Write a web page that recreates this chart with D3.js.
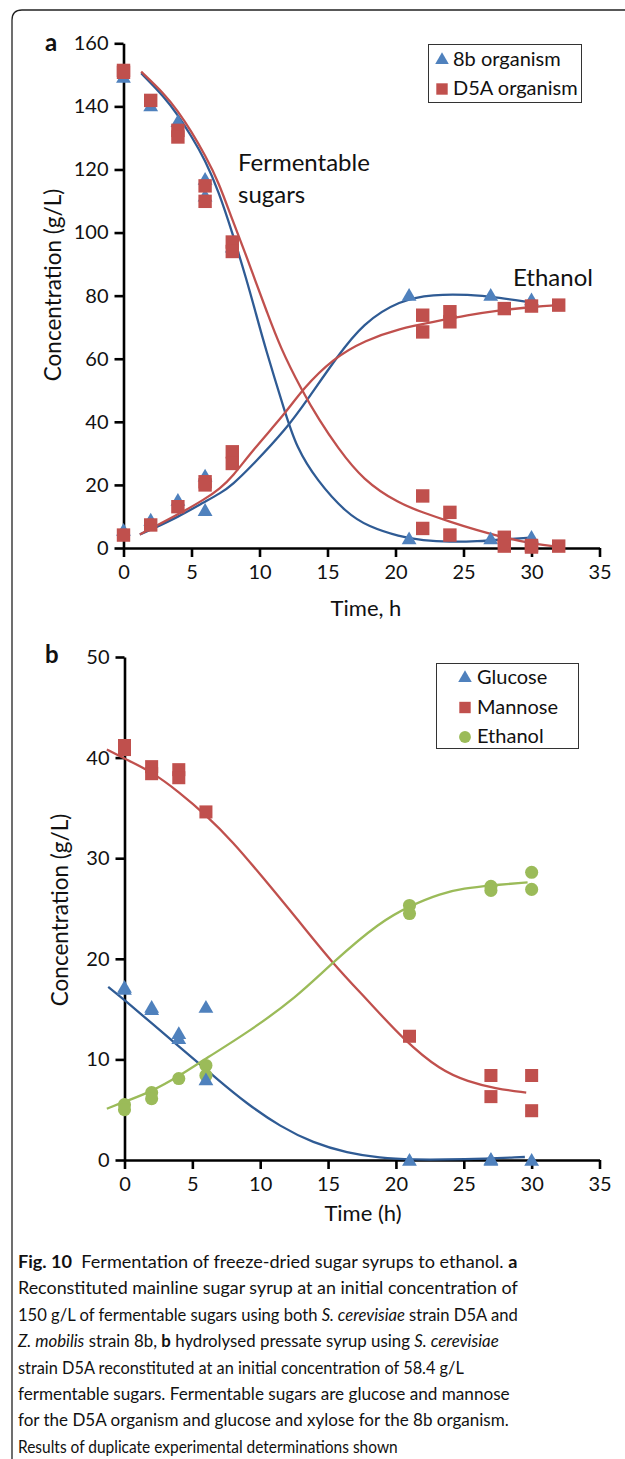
<!DOCTYPE html>
<html><head><meta charset="utf-8">
<script src="https://cdn.jsdelivr.net/npm/d3@7"></script>
<style>
html,body{margin:0;padding:0;background:#fff;}
svg text{font-family:Lato,"Open Sans",sans-serif;fill:#111;}
</style></head>
<body>
<svg id="chart" width="625" height="1459"></svg>
<script>
// ---------- Panel a data (time h, concentration g/L) ----------
const aLegend = ["8b organism", "D5A organism"];
const aXTicks = [0,5,10,15,20,25,30,35];
const aYTicks = [0,20,40,60,80,100,120,140,160];
const a8bSugarPts = [[0,149.3],[2,140.3],[4,135.3],[6,117],[6,111.7],[8,95.5],[21,3],[27,3],[30,3.5]];
const a8bEthanolPts = [[0,5.7],[2,8.9],[4,15.2],[6,22.9],[6,12],[21,80.2],[27,80.2],[30,78.8]];
const aD5ASugarPts = [[0,151.4],[0,150.8],[2,141.9],[4,132.4],[4,130.3],[6,114.8],[6,109.9],[8,97],[8,94],[22,16.5],[22,6.2],[24,11.3],[24,4.1],[28,3.4],[28,0.6],[30,0.8],[30,0.3],[32,0.6]];
const aD5AEthanolPts = [[0,4.1],[2,7.3],[4,13.1],[6,21],[6,20],[8,30.5],[8,26.8],[22,73.8],[22,68.5],[24,74.9],[24,71.7],[28,75.9],[30,76.7],[32,77]];
// fitted curves
const a8bSugarFit = [[1.3,150.5],[3,143],[4,137.2],[5,130.5],[6,123],[7,113],[8,100],[9.06,84.9],[9.67,75.4],[10.4,63.8],[11.9,42.7],[12.7,32.1],[14.2,21.5],[16.4,11],[18,6.8],[20.3,3.6],[22,2.4],[24,1.9],[26,2.1],[28,2.7],[30,3.3]];
const aD5ASugarFit = [[1.3,151],[3,144],[4,138.5],[5,132],[6,124.5],[7,116],[8,104],[9,93],[9.67,84.9],[10.5,75.4],[11.5,63.8],[13.1,50],[14.4,40.5],[15.7,32.1],[17.6,21.5],[20.3,14],[22,11.3],[24,8.3],[26,5.6],[27.7,3.6],[30.2,1.2],[32,0.4]];
const a8bEthanolFit = [[1.2,4.3],[2,5.8],[4,9.8],[6,14.7],[7.1,17.3],[8,20],[9.5,26.3],[12,37.9],[13.5,46.9],[15.7,60.6],[17.6,71.2],[20.3,78.6],[22.8,80.4],[25.3,80.4],[27.7,79.3],[29.8,78]];
const aD5AEthanolFit = [[1.2,4.3],[2,6.1],[4,10.6],[6,15.5],[7.1,18.9],[8,22.5],[9.5,31],[12,43.2],[13.1,50],[15.4,60.1],[17.8,65.9],[20.3,69.6],[22.8,71.7],[25.3,73.8],[27.7,75.4],[30.2,76.5],[32,77]];

// ---------- Panel b data ----------
const bLegend = ["Glucose", "Mannose", "Ethanol"];
const bXTicks = [0,5,10,15,20,25,30,35];
const bYTicks = [0,10,20,30,40,50];
const bGlucosePts = [[0,17.2],[0,17.0],[2,15.0],[2,15.2],[4,12.6],[4,12.1],[6,15.2],[6,8.0],[21,0],[27,0.1],[27,0],[30,0]];
const bMannosePts = [[0,41.2],[0,40.8],[2,39.1],[2,38.4],[4,38.8],[4,38.0],[6,34.6],[21,12.3],[27,8.4],[27,6.3],[30,8.4],[30,4.9]];
const bEthanolPts = [[0,5.5],[0,5.0],[2,6.7],[2,6.1],[4,8.1],[6,9.4],[6,8.4],[21,25.3],[21,24.5],[27,27.2],[27,26.8],[30,28.6],[30,26.9]];
const bGlucoseFit = [[-1.2,17.2],[0,15.9],[2,13.6],[4,11.3],[5.5,9.6],[6.6,8.3],[9,5.6],[11.5,3.3],[13.9,1.7],[16.4,0.7],[18.85,0.2],[21,0.02],[25,0.05],[29.5,0.3]];
const bMannoseFit = [[-1.3,40.8],[0,39.9],[2,38.6],[4,36.6],[6,34.3],[8,31.6],[10,28.4],[12.7,24],[15.3,19.6],[17.9,15.9],[20.6,11.9],[23.3,8.9],[25.3,7.8],[27.3,7.1],[29.6,6.7]];
const bEthanolFit = [[-1.3,5.1],[0,5.8],[2,6.8],[4.1,8.4],[6,10.1],[9,12.6],[12.7,16.2],[15.3,19.6],[18.85,23.7],[21.1,25.3],[23.3,26.5],[25,27],[27,27.3],[29.7,27.6]];

const captionLines = [
  [["Fig. 10","b"],["  Fermentation of freeze-dried sugar syrups to ethanol. ",""],["a","b"]],
  [["Reconstituted mainline sugar syrup at an initial concentration of",""]],
  [["150 g/L of fermentable sugars using both ",""],["S. cerevisiae","i"],[" strain D5A and",""]],
  [["Z. mobilis","i"],[" strain 8b, ",""],["b","b"],[" hydrolysed pressate syrup using ",""],["S. cerevisiae","i"]],
  [["strain D5A reconstituted at an initial concentration of 58.4 g/L",""]],
  [["fermentable sugars. Fermentable sugars are glucose and mannose",""]],
  [["for the D5A organism and glucose and xylose for the 8b organism.",""]],
  [["Results of duplicate experimental determinations shown",""]]
];
const captionWidths = [500,500,500,481,446,492,491,380];

// ---------- colours ----------
const cBlueM = "#4F81BD", cRedM = "#C0504D", cGreenM = "#9BBB59";
const cBlueL = "#2F5B94", cRedL = "#C0504D", cGreenL = "#9BBB59";

const svg = d3.select("#chart");

// frame
svg.append("path")
  .attr("d","M12,1470 L12,20 Q12,10 22,10 L640,10")
  .attr("fill","none").attr("stroke","#222").attr("stroke-width",1.3);

function symbolPath(type, size){
  if(type==="tri") return d3.symbol(d3.symbolTriangle, size)();
  if(type==="sq") return d3.symbol(d3.symbolSquare, size)();
  return d3.symbol(d3.symbolCircle, size)();
}

function panel(opts){
  const g = svg.append("g");
  const x = d3.scaleLinear().domain([0,35]).range(opts.xr);
  const y = d3.scaleLinear().domain(opts.yd).range(opts.yr);
  const ya = g.append("g").attr("transform",`translate(${opts.xr[0]},0)`)
    .call(d3.axisLeft(y).tickValues(opts.yTicks).tickSize(9).tickSizeOuter(0).tickPadding(6));
  const xa = g.append("g").attr("transform",`translate(0,${opts.yr[0]})`)
    .call(d3.axisBottom(x).tickValues(opts.xTicks).tickSize(9).tickSizeOuter(0).tickPadding(8));
  [ya,xa].forEach(a=>{
    a.selectAll("path.domain").attr("stroke","#000").attr("stroke-width",2.6);
    a.selectAll(".tick line").attr("stroke","#000").attr("stroke-width",2.6);
    a.selectAll("text").attr("font-size",20).attr("font-family","Lato").attr("fill","#111");
  });
  const line = d3.line().x(d=>x(d[0])).y(d=>y(d[1])).curve(d3.curveBasis);
  opts.fits.forEach(f=>{
    g.append("path").attr("d",line(f.data)).attr("fill","none")
      .attr("stroke",f.color).attr("stroke-width",2.3);
  });
  opts.points.forEach(p=>{
    g.selectAll(null).data(p.data).enter().append("path")
      .attr("d",symbolPath(p.type,p.size))
      .attr("transform",d=>`translate(${x(d[0])},${y(d[1]) + (p.type==="tri"?1.5:0)})`)
      .attr("fill",p.color);
  });
  return {g,x,y};
}

// ---------- Panel a ----------
panel({
  xr:[123.5,599.5], yd:[0,160], yr:[548,43.3], xTicks:aXTicks, yTicks:aYTicks,
  fits:[
    {data:a8bSugarFit,color:cBlueL},{data:a8bEthanolFit,color:cBlueL},
    {data:aD5ASugarFit,color:cRedL},{data:aD5AEthanolFit,color:cRedL}
  ],
  points:[
    {data:a8bSugarPts,type:"tri",size:95,color:cBlueM},
    {data:a8bEthanolPts,type:"tri",size:95,color:cBlueM},
    {data:aD5ASugarPts,type:"sq",size:180,color:cRedM},
    {data:aD5AEthanolPts,type:"sq",size:180,color:cRedM}
  ]
});
svg.append("text").attr("x",45).attr("y",51).attr("font-family","Liberation Sans, Arial")
  .attr("font-weight","bold").attr("font-size",24).text("a");
svg.append("text").attr("transform","translate(61,285) rotate(-90)").attr("text-anchor","middle")
  .attr("font-size",22.5).text("Concentration (g/L)");
svg.append("text").attr("x",366).attr("y",616).attr("text-anchor","middle")
  .attr("font-size",22).text("Time, h");
svg.append("text").attr("x",238).attr("y",171).attr("font-size",24).text("Fermentable");
svg.append("text").attr("x",238).attr("y",203).attr("font-size",24).text("sugars");
svg.append("text").attr("x",513).attr("y",286).attr("font-size",24).text("Ethanol");
// legend a
svg.append("rect").attr("x",428.5).attr("y",44.5).attr("width",153).attr("height",58)
  .attr("fill","#fff").attr("stroke","#333").attr("stroke-width",1);
const aLegSym = [["tri",cBlueM,80],["sq",cRedM,130]];
aLegend.forEach((t,i)=>{
  const yy = 59 + i*29;
  svg.append("path").attr("d",symbolPath(aLegSym[i][0],aLegSym[i][2]))
    .attr("transform",`translate(442,${yy+1})`).attr("fill",aLegSym[i][1]);
  svg.append("text").attr("x",453).attr("y",yy+7).attr("font-size",20).text(t);
});

// ---------- Panel b ----------
panel({
  xr:[124.5,599.5], yd:[0,50], yr:[1160,657], xTicks:bXTicks, yTicks:bYTicks,
  fits:[
    {data:bGlucoseFit,color:cBlueL},{data:bMannoseFit,color:cRedL},{data:bEthanolFit,color:cGreenL}
  ],
  points:[
    {data:bEthanolPts,type:"circ",size:135,color:cGreenM},
    {data:bGlucosePts,type:"tri",size:95,color:cBlueM},
    {data:bMannosePts,type:"sq",size:170,color:cRedM}
  ]
});
svg.append("text").attr("x",45).attr("y",663).attr("font-family","Liberation Sans, Arial")
  .attr("font-weight","bold").attr("font-size",24).text("b");
svg.append("text").attr("transform","translate(68,910) rotate(-90)").attr("text-anchor","middle")
  .attr("font-size",22.5).text("Concentration (g/L)");
svg.append("text").attr("x",363).attr("y",1221).attr("text-anchor","middle")
  .attr("font-size",22).text("Time (h)");
svg.append("rect").attr("x",436.5).attr("y",663.5).attr("width",142).attr("height",85)
  .attr("fill","#fff").attr("stroke","#333").attr("stroke-width",1);
const bLegSym = [["tri",cBlueM,80],["sq",cRedM,130],["circ",cGreenM,110]];
bLegend.forEach((t,i)=>{
  const yy = 677 + i*29.5;
  svg.append("path").attr("d",symbolPath(bLegSym[i][0],bLegSym[i][2]))
    .attr("transform",`translate(465,${yy+1})`).attr("fill",bLegSym[i][1]);
  svg.append("text").attr("x",477).attr("y",yy+7).attr("font-size",20).text(t);
});

// ---------- caption ----------
const capTexts = captionLines.map((ln,i)=>{
  const t = svg.append("text").attr("x",0).attr("y",0)
    .attr("font-family","'Open Sans', sans-serif").attr("font-size",17)
    .attr("style","white-space:pre");
  ln.forEach(seg=>{
    const ts = t.append("tspan").text(seg[0]);
    if(seg[1]==="b") ts.attr("font-weight","bold");
    if(seg[1]==="i") ts.attr("font-style","italic");
  });
  return t;
});
capTexts.forEach((t,i)=>{
  const base = 1268 + i*26.4;
  const sx = captionWidths[i]/t.node().getComputedTextLength();
  t.attr("transform",`translate(18,${base}) scale(${sx},1)`);
});
</script>
</body></html>
